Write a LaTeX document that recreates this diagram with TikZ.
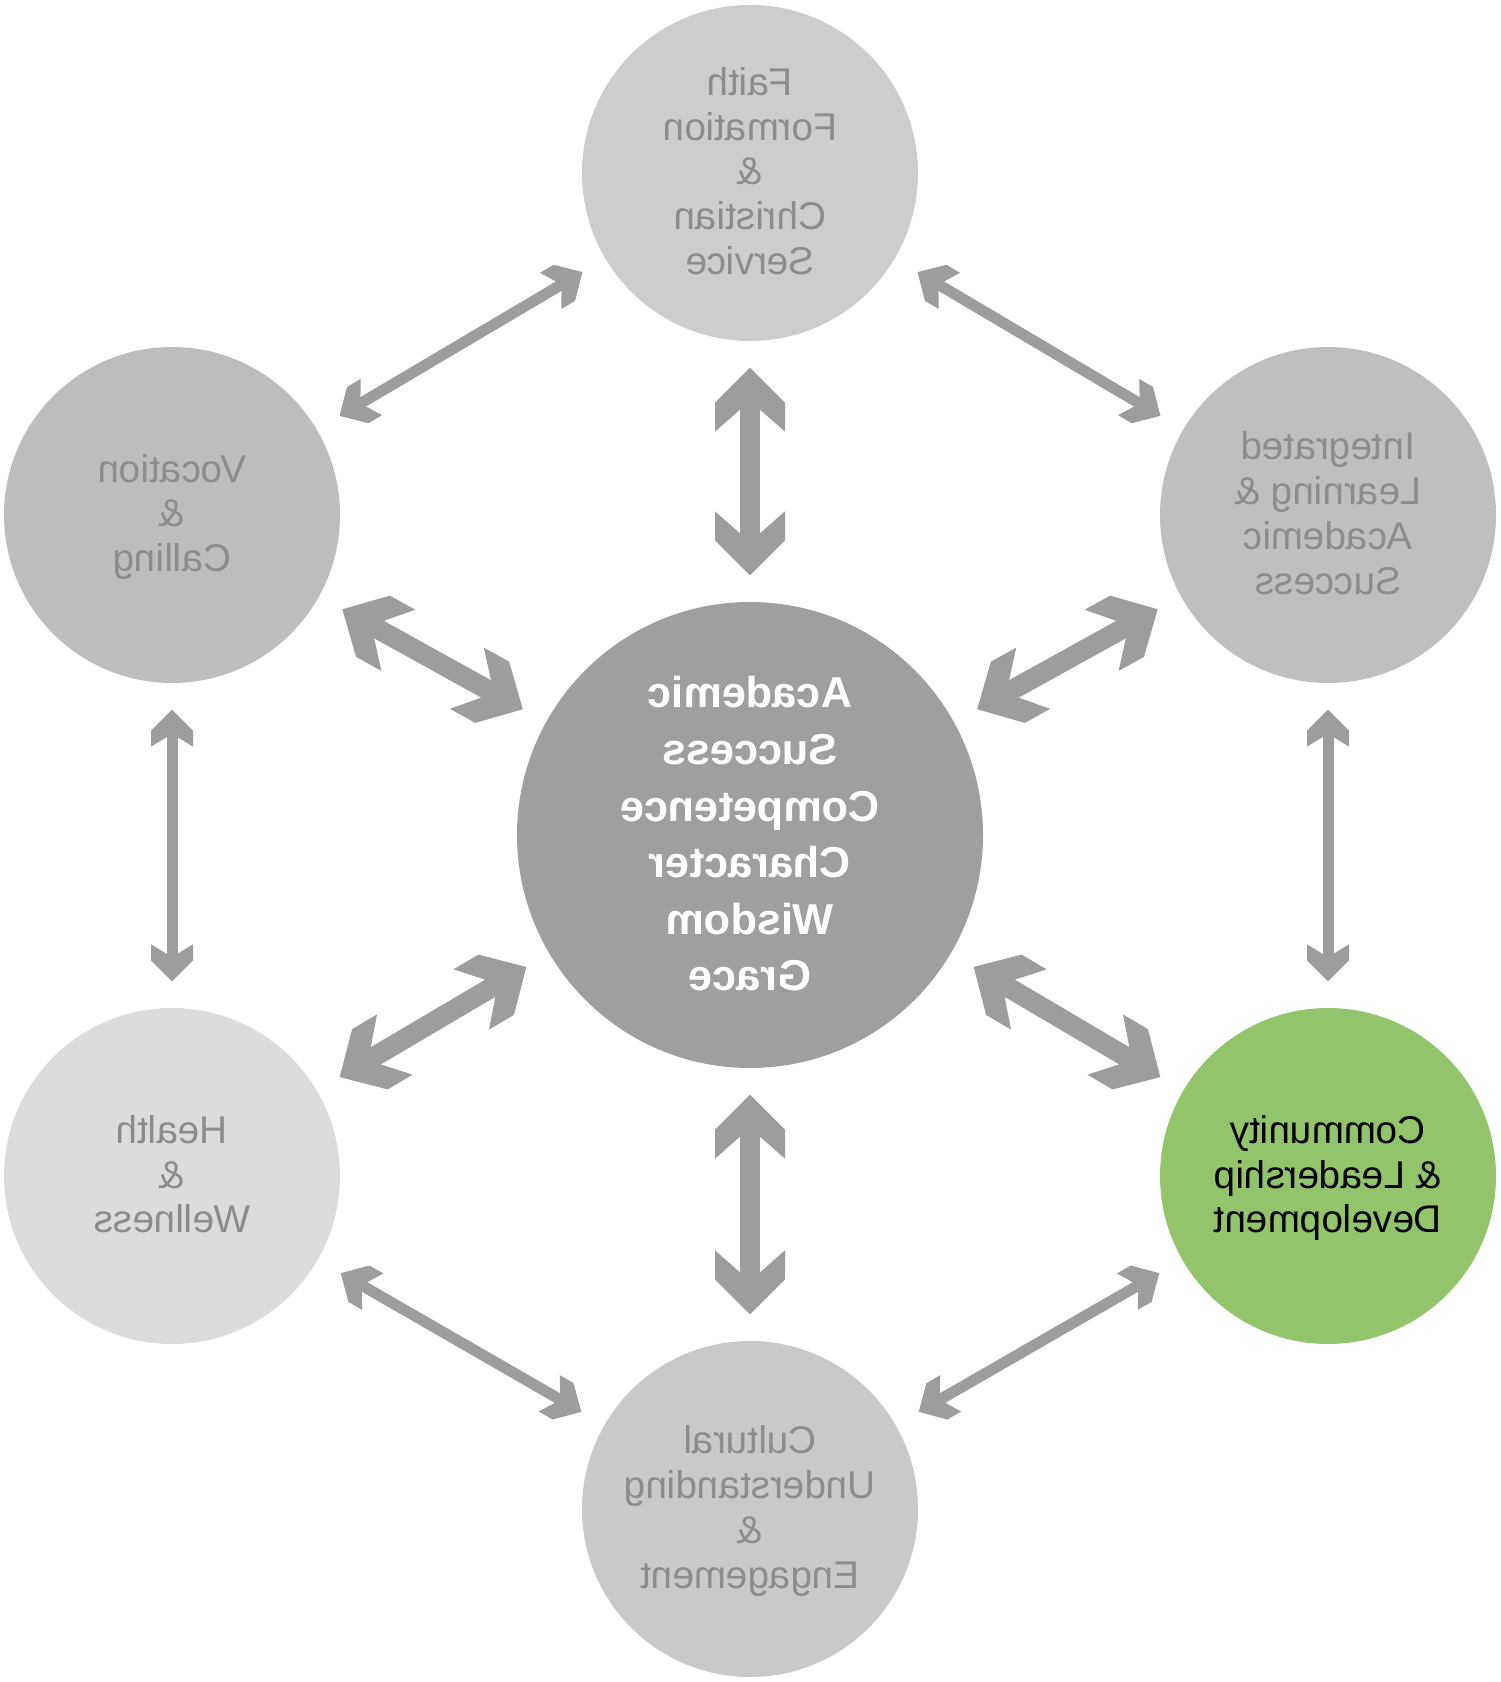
\documentclass[tikz,border=0pt]{standalone}
\usepackage{fontspec}
\setmainfont{Liberation Sans}
\usepackage{graphicx}
\usetikzlibrary{arrows.meta}

% block arrow head with flat barbs
\pgfdeclarearrow{
  name = Chevron,
  parameters = {\the\pgfarrowlength,\the\pgfarrowwidth,\the\pgfarrowinset},
  setup code = {
    \pgfarrowssettipend{0pt}
    \pgfarrowssetlineend{-\pgfarrowinset}
    \pgfarrowssetvisualbackend{-\pgfarrowlength}
    \pgfarrowssetbackend{-\pgfarrowlength}
    \pgfarrowshullpoint{0pt}{0pt}
    \pgfarrowsupperhullpoint{-\pgfarrowlength}{.5\pgfarrowwidth}
    \pgfarrowssavethe\pgfarrowlength
    \pgfarrowssavethe\pgfarrowwidth
    \pgfarrowssavethe\pgfarrowinset
  },
  drawing code = {
    \pgfpathmoveto{\pgfpointorigin}
    \pgfpathlineto{\pgfpoint{-.5\pgfarrowwidth}{.5\pgfarrowwidth}}
    \pgfpathlineto{\pgfpoint{-\pgfarrowlength}{.5\pgfarrowwidth}}
    \pgfpathlineto{\pgfpoint{-\pgfarrowinset-.5pt}{.14\pgfarrowwidth}}
    \pgfpathlineto{\pgfpoint{-\pgfarrowinset-.5pt}{-.14\pgfarrowwidth}}
    \pgfpathlineto{\pgfpoint{-\pgfarrowlength}{-.5\pgfarrowwidth}}
    \pgfpathlineto{\pgfpoint{-.5\pgfarrowwidth}{-.5\pgfarrowwidth}}
    \pgfpathclose
    \pgfusepathqfill
  },
  defaults = {length=6.4mm, width=7mm, inset=4mm}
}

\definecolor{arrowgray}{HTML}{9D9D9D}
\definecolor{hubgray}{HTML}{9F9F9F}
\definecolor{labelgray}{HTML}{8C8C8C}
\definecolor{faithgray}{HTML}{CDCDCD}
\definecolor{vocgray}{HTML}{BDBDBD}
\definecolor{intgray}{HTML}{BFBFBF}
\definecolor{healthgray}{HTML}{DCDCDC}
\definecolor{culturegray}{HTML}{C9C9C9}
\definecolor{commgreen}{HTML}{92C46B}

\newcommand{\mirrortext}[1]{\raisebox{-0.3mm}[\height][\depth]{\reflectbox{\begin{tabular}{@{}c@{}}#1\end{tabular}}}}

\begin{document}
\begin{tikzpicture}[x=0.1mm, y=-0.1mm,
  hub/.style={circle, inner sep=0pt, minimum size=46.6mm, fill=hubgray,
    text=white, font=\fontsize{12.3}{16.1}\selectfont\bfseries},
  spoke/.style={circle, inner sep=0pt, minimum size=33.6mm,
    text=labelgray, font=\fontsize{11}{12.8}\selectfont},
  bigarrow/.style={draw=arrowgray, line width=2mm,
    {Chevron[length=6.4mm, width=7mm, inset=4mm]}-{Chevron[length=6.4mm, width=7mm, inset=4mm]},
    shorten <=2.6mm, shorten >=2.6mm},
  smallarrow/.style={draw=arrowgray, line width=1.1mm,
    {Chevron[length=3.7mm, width=4.2mm, inset=2.6mm]}-{Chevron[length=3.7mm, width=4.2mm, inset=2.6mm]},
    shorten <=2.6mm, shorten >=2.6mm}]
\useasboundingbox (0,0) rectangle (1500,1682);

\node[hub] (M) at (750,835)
  {\mirrortext{Academic\\Success\\Competence\\Character\\Wisdom\\Grace}};
\node[spoke, fill=faithgray] (F) at (750,173)
  {\mirrortext{Faith\\Formation\\\&\\Christian\\Service}};
\node[spoke, fill=vocgray] (V) at (172,515) {\mirrortext{Vocation\\\&\\Calling}};
\node[spoke, fill=intgray] (I) at (1328,515)
  {\mirrortext{Integrated\\Learning \&\\Academic\\Success}};
\node[spoke, fill=healthgray] (H) at (172,1176) {\mirrortext{Health\\\&\\Wellness}};
\node[spoke, fill=commgreen, text=black] (C) at (1328,1176)
  {\mirrortext{Community\\\& Leadership\\Development}};
\node[spoke, fill=culturegray] (U) at (750,1509)
  {\mirrortext{Cultural\\Understanding\\\&\\Engagement}};

% spokes to the hub
\foreach \n in {F,V,I,H,C,U}
  \draw[bigarrow] (\n) -- (M);

% outer ring
\draw[smallarrow] (V) -- (F);
\draw[smallarrow] (F) -- (I);
\draw[smallarrow] (V) -- (H);
\draw[smallarrow] (I) -- (C);
\draw[smallarrow] (H) -- (U);
\draw[smallarrow] (U) -- (C);
\end{tikzpicture}
\end{document}
